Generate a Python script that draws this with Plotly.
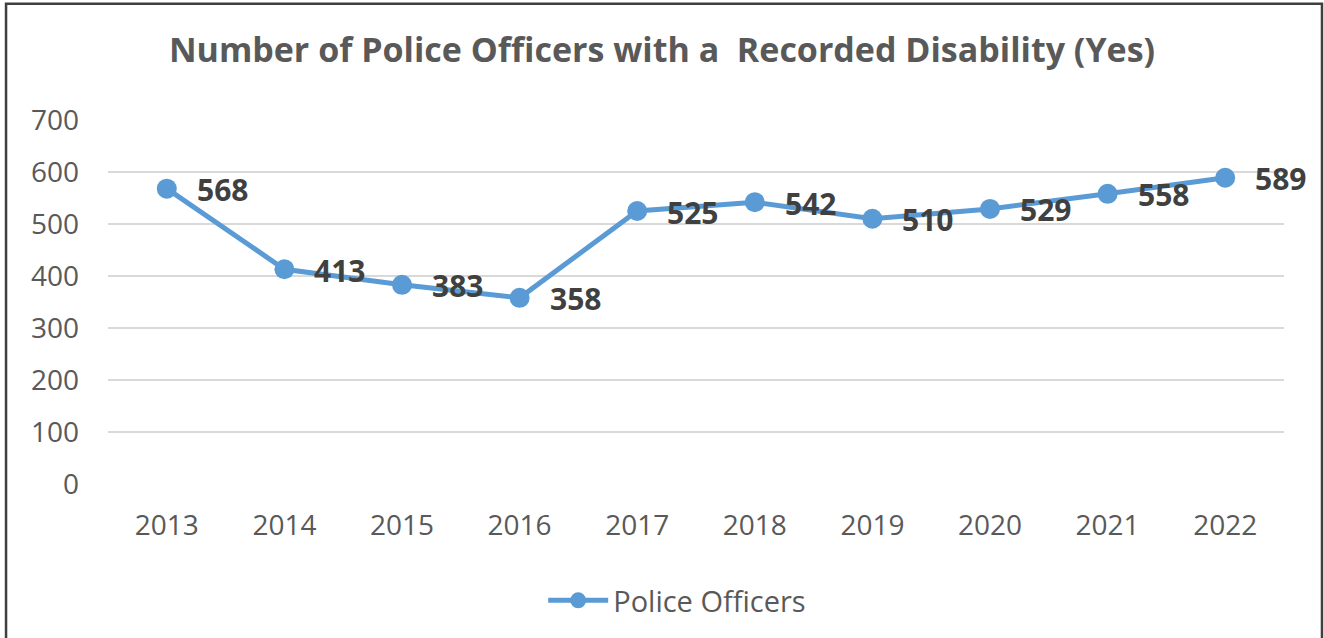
import plotly.graph_objects as go

years = ["2013", "2014", "2015", "2016", "2017", "2018", "2019", "2020", "2021", "2022"]
officers = [568, 413, 383, 358, 525, 542, 510, 529, 558, 589]
y_ticks = [0, 100, 200, 300, 400, 500, 600, 700]

BLUE = "#5B9BD5"
GRID = "#D9D9D9"
TEXT = "#595959"
LABEL = "#404040"
FONT = "Open Sans"

fig = go.Figure()
fig.add_trace(go.Scatter(
    x=years, y=officers, mode="lines+markers", name="Police Officers",
    line=dict(color=BLUE, width=5),
    marker=dict(color=BLUE, size=20),
))

# value labels to the right of each point (x given as category index)
for i, v in enumerate(officers):
    fig.add_annotation(
        x=i, y=v, text=f"<b>{v}</b>", showarrow=False,
        xanchor="left", yanchor="middle", xshift=28, yshift=-1,
        font=dict(family=FONT, size=30, color=LABEL),
    )

# outer frame (top, left, right edges)
fig.add_shape(type="path", xref="paper", yref="paper",
              path="M -0.0867,-0.45 L -0.0867,1.3197 L 1.0323,1.3197 L 1.0323,-0.45",
              line=dict(color="#3F3F3F", width=2.5))

fig.update_layout(
    width=1324, height=638,
    margin=dict(l=108, r=40, t=120, b=152),
    paper_bgcolor="white", plot_bgcolor="white",
    title=dict(text="<b>Number of Police Officers with a  Recorded Disability (Yes)</b>",
               x=0.5, xanchor="center", y=1 - 50 / 638, yanchor="middle",
               font=dict(family=FONT, size=34, color=TEXT)),
    xaxis=dict(type="category", showgrid=False, zeroline=False, showline=False,
               ticks="", tickfont=dict(family=FONT, size=28, color=TEXT),
               ticklabelstandoff=22,
               range=[-0.5, len(years) - 0.5]),
    yaxis=dict(range=[0, 700], tickvals=y_ticks, showgrid=True, gridcolor=GRID,
               gridwidth=1.5, zeroline=False, showline=False, ticks="",
               ticklabelstandoff=28,
               tickfont=dict(family=FONT, size=28, color=TEXT)),
    showlegend=True,
    legend=dict(orientation="h", x=0.484, xanchor="center", y=-0.32, yanchor="middle",
                font=dict(family=FONT, size=29, color=TEXT), itemwidth=60),
)

fig.write_html("out.html")
